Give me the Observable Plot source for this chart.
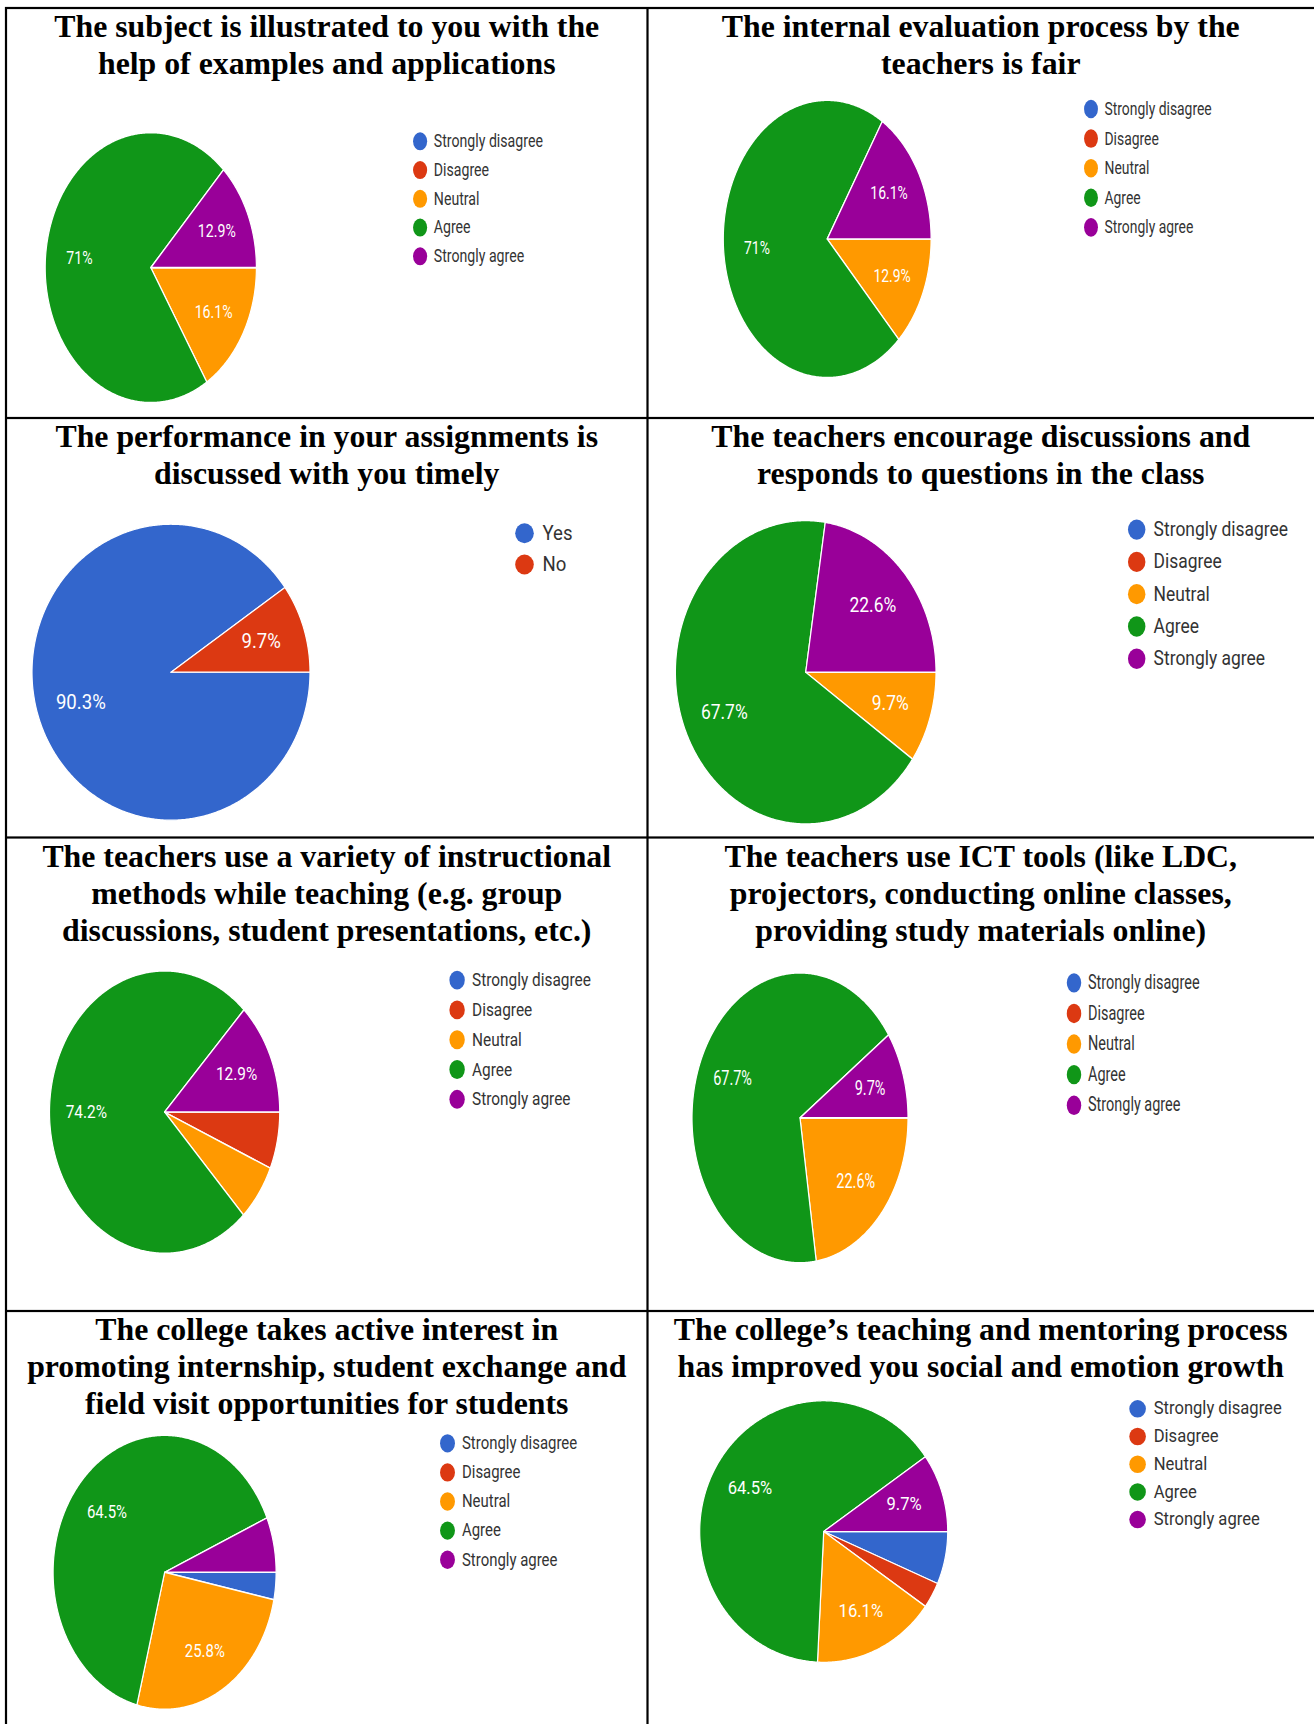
<!DOCTYPE html>
<html><head><meta charset="utf-8">
<script src="https://cdn.jsdelivr.net/npm/d3@7"></script>
<script src="https://cdn.jsdelivr.net/npm/@observablehq/plot@0.6"></script>
<style>
html,body{margin:0;padding:0;background:#fff;}
#page{position:relative;width:1314px;height:1724px;overflow:hidden;background:#fff;}
.cell{position:absolute;transform-origin:0 0;}
.cell svg{display:block;overflow:visible;}
#frame{position:absolute;left:0;top:0;}
</style></head><body><div id="page"></div>
<script>
// ---- categories & colours ----
const likert = ["Strongly disagree", "Disagree", "Neutral", "Agree", "Strongly agree"];
const likertColors = ["#3366cc", "#dc3912", "#ff9900", "#109618", "#990099"];
const yesNo = ["Yes", "No"];
const yesNoColors = ["#3366cc", "#dc3912"];

// ---- titles ----
const titleSubject = ["The subject is illustrated to you with the", "help of examples and applications"];
const titleEvaluation = ["The internal evaluation process by the", "teachers is fair"];
const titleAssignments = ["The performance in your assignments is", "discussed with you timely"];
const titleDiscussions = ["The teachers encourage discussions and", "responds to questions in the class"];
const titleMethods = ["The teachers use a variety of instructional", "methods while teaching (e.g. group", "discussions, student presentations, etc.)"];
const titleICT = ["The teachers use ICT tools (like LDC,", "projectors, conducting online classes,", "providing study materials online)"];
const titleInternship = ["The college takes active interest in", "promoting internship, student exchange and", "field visit opportunities for students"];
const titleMentoring = ["The college\u2019s teaching and mentoring process", "has improved you social and emotion growth"];

// ---- values (percent, in legend order) ----
const subjectIllustrated = [0, 0, 16.1, 71, 12.9];
const evaluationFair = [0, 0, 12.9, 71, 16.1];
const assignmentsDiscussed = [90.3, 9.7];
const encourageDiscussions = [0, 0, 9.7, 67.7, 22.6];
const instructionalMethods = [0, 6.5, 6.5, 74.2, 12.9];
const ictTools = [0, 0, 22.6, 67.7, 9.7];
const internshipInterest = [3.2, 0, 25.8, 64.5, 6.5];
const mentoringGrowth = [6.5, 3.2, 16.1, 64.5, 9.7];

const charts = [
  {title: titleSubject, cats: likert, colors: likertColors, values: subjectIllustrated},
  {title: titleEvaluation, cats: likert, colors: likertColors, values: evaluationFair},
  {title: titleAssignments, cats: yesNo, colors: yesNoColors, values: assignmentsDiscussed},
  {title: titleDiscussions, cats: likert, colors: likertColors, values: encourageDiscussions},
  {title: titleMethods, cats: likert, colors: likertColors, values: instructionalMethods},
  {title: titleICT, cats: likert, colors: likertColors, values: ictTools},
  {title: titleInternship, cats: likert, colors: likertColors, values: internshipInterest},
  {title: titleMentoring, cats: likert, colors: likertColors, values: mentoringGrowth}
];

// ---- layout (page pixels) ----
const rowLines = [8, 418, 837.5, 1311, 1724];
const colLines = [6, 647.5, 1314];
const layout = [
  {cx: 150.3, cy: 267, rx: 105.6, ry: 135, lx: 419.6, ly: 140.7, lsp: 28.75},
  {cx: 826.2, cy: 238.3, rx: 103.9, ry: 138.7, lx: 1090, ly: 108.3, lsp: 29.6},
  {cx: 170.5, cy: 671.7, rx: 139, ry: 148, lx: 524, ly: 532.7, lsp: 31.3},
  {cx: 804.7, cy: 671.7, rx: 130.3, ry: 151.7, lx: 1135.7, ly: 529, lsp: 32.3},
  {cx: 164.1, cy: 1111, rx: 115.1, ry: 141.2, lx: 456.6, ly: 979, lsp: 29.8},
  {cx: 799, cy: 1116.7, rx: 108, ry: 145, lx: 1073, ly: 981.7, lsp: 30.6},
  {cx: 164.1, cy: 1571.7, rx: 111.5, ry: 137, lx: 447, ly: 1442.7, lsp: 29.1},
  {cx: 822.7, cy: 1531, rx: 124, ry: 130.8, lx: 1136.6, ly: 1408.3, lsp: 27.7}
];

const page = document.getElementById("page");
const labelRadius = 0.68;

charts.forEach((c, i) => {
  const L = layout[i];
  const col = i % 2, row = Math.floor(i / 2);
  const x0 = colLines[col], x1 = colLines[col + 1], y0 = rowLines[row], y1 = rowLines[row + 1];
  const s = L.ry / L.rx;
  const r = L.rx;
  const W = x1 - x0, H = (y1 - y0) / s;
  const cxu = L.cx - x0, cyu = (L.cy - y0) / s;
  const fs = r / 7.47;

  const arcs = d3.pie().sort(null).value(d => d.v)
    .startAngle(Math.PI / 2).endAngle(Math.PI * 2.5)(c.cats.map((k, j) => ({k, v: c.values[j]})))
    .filter(a => a.value > 0);

  const pts = arcs.flatMap((a, j) => {
    const n = Math.max(2, Math.ceil((a.endAngle - a.startAngle) / (Math.PI / 360)));
    const out = [{key: j, cat: a.data.k, x: 0, y: 0}];
    for (let k = 0; k <= n; k++) {
      const t = a.startAngle + (a.endAngle - a.startAngle) * k / n;
      out.push({key: j, cat: a.data.k, x: Math.sin(t), y: Math.cos(t)});
    }
    out.push({key: j, cat: a.data.k, x: 0, y: 0});
    return out;
  });

  const labeled = arcs.filter(a => a.value >= 9);
  const mid = a => (a.startAngle + a.endAngle) / 2;
  const legY = (d, j) => (cyu - (L.ly + j * L.lsp - y0) / s) / r;

  const plot = Plot.plot({
    width: W, height: H, margin: 0,
    x: {domain: [-1, 1], range: [cxu - r, cxu + r], axis: null},
    y: {domain: [-1, 1], range: [cyu + r, cyu - r], axis: null},
    color: {domain: c.cats, range: c.colors},
    style: {fontFamily: "Roboto, Arial, sans-serif", background: "transparent", overflow: "visible"},
    marks: [
      Plot.line(pts, {x: "x", y: "y", z: "key", fill: "cat", stroke: "white", strokeWidth: 1.2, strokeLinejoin: "round", curve: "linear"}),
      Plot.text(labeled, {
        x: a => labelRadius * Math.sin(mid(a)),
        y: a => labelRadius * Math.cos(mid(a)),
        text: a => `${a.value}%`,
        fill: "white", fontSize: fs
      }),
      Plot.dot(c.cats, {x: () => (L.lx - L.cx) / r, y: legY, fill: d => d, r: fs / 2, stroke: null}),
      Plot.text(c.cats, {x: () => (L.lx + 0.97 * fs - L.cx) / r, y: legY, text: d => d, textAnchor: "start", fill: "#333", fontSize: fs})
    ]
  });

  const div = document.createElement("div");
  div.className = "cell";
  div.style.left = x0 + "px";
  div.style.top = y0 + "px";
  div.style.width = W + "px";
  div.style.transform = `scaleY(${s})`;
  div.appendChild(plot);
  page.appendChild(div);
});

// ---- table frame and titles ----
const svg = d3.select(page).append("svg").attr("id", "frame").attr("width", 1314).attr("height", 1724);
const lw = 2.2;
svg.append("rect").attr("x", 5).attr("y", 8 - lw / 2).attr("width", 1309).attr("height", lw);
[418, 837.5, 1311].forEach(y => svg.append("rect").attr("x", 5).attr("y", y - lw / 2).attr("width", 1309).attr("height", lw));
[6, 647.5].forEach(x => svg.append("rect").attr("x", x - lw / 2).attr("y", 7).attr("width", lw).attr("height", 1717));

charts.forEach((c, i) => {
  const col = i % 2, row = Math.floor(i / 2);
  const xc = (colLines[col] + colLines[col + 1]) / 2;
  const y0 = rowLines[row];
  c.title.forEach((line, k) => {
    svg.append("text")
      .attr("x", xc).attr("y", y0 + 29.3 + 37 * k)
      .attr("text-anchor", "middle")
      .attr("font-family", "'Liberation Serif', 'Times New Roman', serif")
      .attr("font-weight", "bold")
      .attr("font-size", 31.8)
      .attr("fill", "#000")
      .text(line);
  });
});
</script>
</body></html>
